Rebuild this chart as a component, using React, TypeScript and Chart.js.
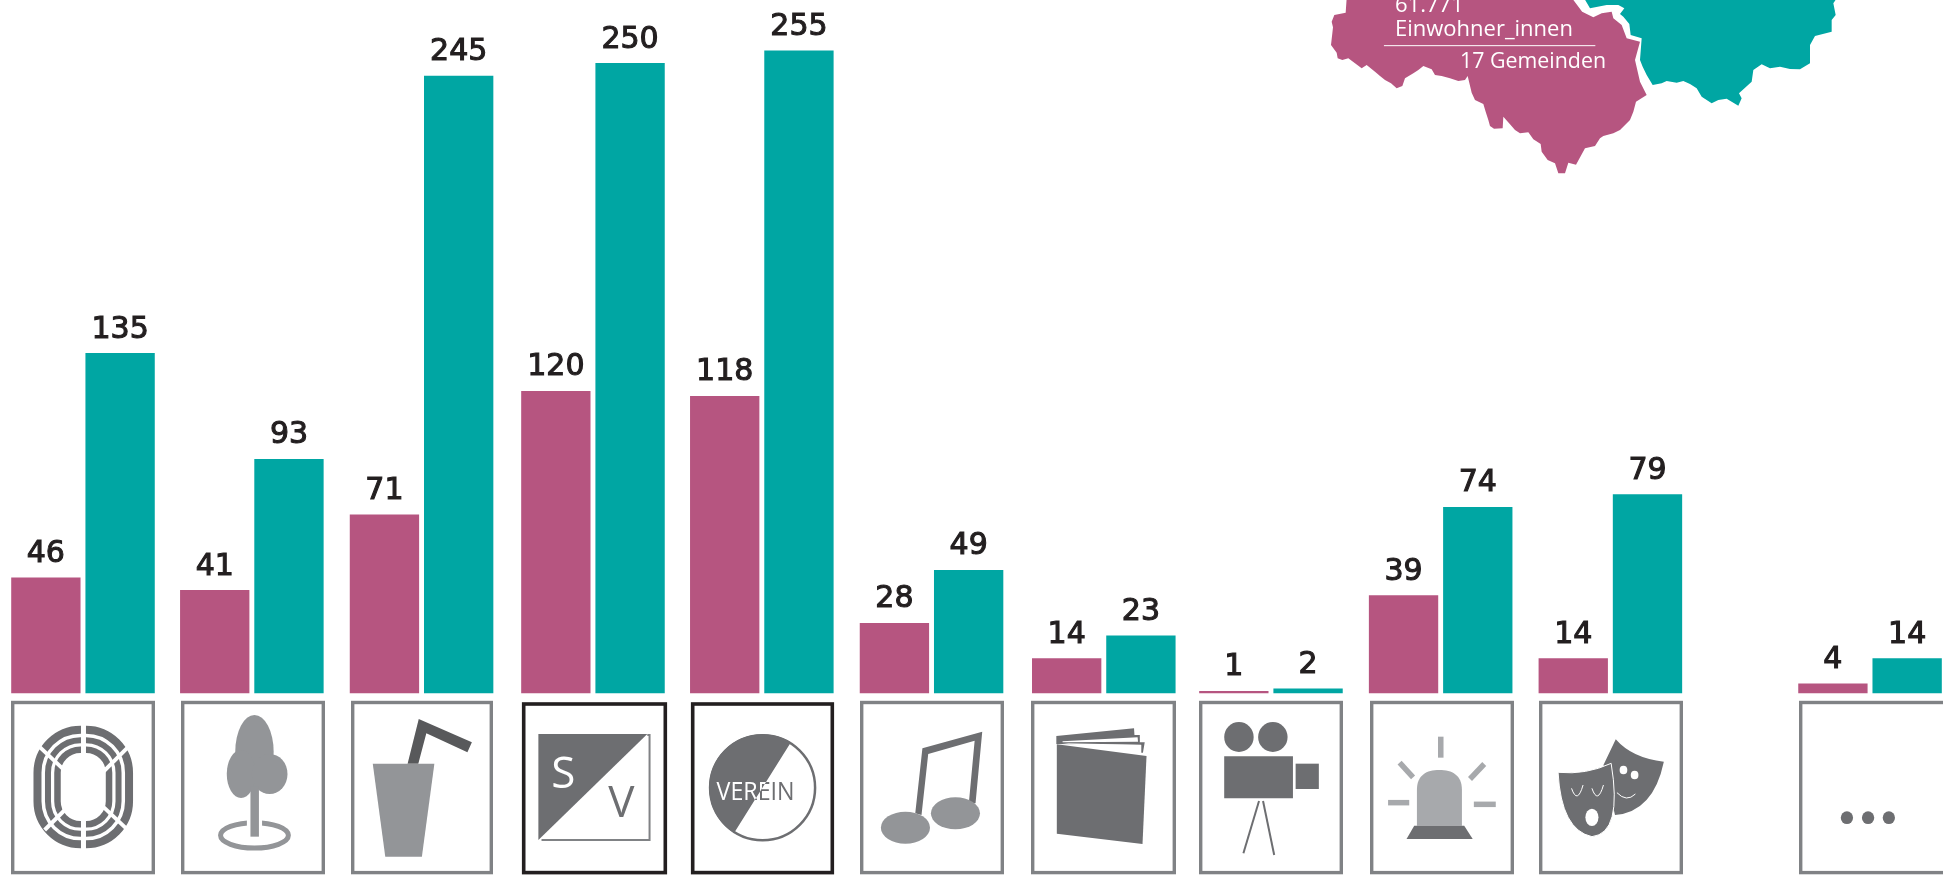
import React, { useEffect, useRef } from "react";
import { Chart, registerables } from "chart.js";

Chart.register(...registerables);

// ---- data ----
const categories = ["Sport", "Park", "Gastronomie", "Sportverein", "Verein", "Musik", "Bücherei", "Kino", "Feuerwehr", "Theater", "Sonstige"];
const groupSlots = [0, 0.995, 1.995, 3.005, 4, 5, 6.015, 7, 8, 9, 10.53];
const pinkValues = [46, 41, 71, 120, 118, 28, 14, 1, 39, 14, 4];
const tealValues = [135, 93, 245, 250, 255, 49, 23, 2, 74, 79, 14];
const pinkLabel = "61.771 Einwohner_innen, 17 Gemeinden";
const tealLabel = "Zweite Region";
const mapLines = ["61.771", "Einwohner_innen", "17 Gemeinden"];

const PINK = "#b65580";
const TEAL = "#00a6a3";
const DARK = "#6d6e71";
const MID = "#939598";
const LIGHT = "#a7a9ac";
const BOX = "#808285";
const INK = "#231f20";

type Pt = [number, number];
type M = { x: (p: number) => number; y: (p: number) => number; sx: number; sy: number };
const mapper = (ox: number, oy: number, sx: number, sy: number): M => ({
  x: (p) => ox + p / sx,
  y: (p) => oy + p / sy,
  sx,
  sy,
});
const mA = mapper(0, 680, 2.24, 3);
const mB = mapper(680, 680, 2.24, 3);
const mC = mapper(1340, 620, 2.6, 3);
const mMap = mapper(1300, 0, 2.8, 3);
const mAbs = mapper(0, 0, 1, 1);
const mP1 = mapper(1325, 0, 3, 3);
const mP2 = mapper(1470, 70, 3, 3);
const mT = mapper(1590, 0, 3, 3);
const conv = (m: M, pts: Pt[]): Pt[] => pts.map(([a, b]) => [m.x(a), m.y(b)] as Pt);

function polyPath(ctx: CanvasRenderingContext2D, m: M, pts: Pt[]) {
  ctx.beginPath();
  pts.forEach(([a, b], i) => (i ? ctx.lineTo(m.x(a), m.y(b)) : ctx.moveTo(m.x(a), m.y(b))));
  ctx.closePath();
}
function poly(ctx: CanvasRenderingContext2D, m: M, pts: Pt[], fill: string) {
  polyPath(ctx, m, pts);
  ctx.fillStyle = fill;
  ctx.fill();
}
function ell(ctx: CanvasRenderingContext2D, m: M, cx: number, cy: number, rx: number, ry: number, fill: string) {
  ctx.beginPath();
  ctx.ellipse(m.x(cx), m.y(cy), rx / m.sx, ry / m.sy, 0, 0, Math.PI * 2);
  ctx.fillStyle = fill;
  ctx.fill();
}
function line(ctx: CanvasRenderingContext2D, m: M, pts: Pt[], color: string, lw: number) {
  ctx.beginPath();
  pts.forEach(([a, b], i) => (i ? ctx.lineTo(m.x(a), m.y(b)) : ctx.moveTo(m.x(a), m.y(b))));
  ctx.strokeStyle = color;
  ctx.lineWidth = lw;
  ctx.stroke();
}

const pinkMap: Pt[] = [
  ...conv(mP1, [[65,-5],[62,38],[28,45],[20,65],[24,82],[22,100],[18,135],[35,158],[38,175],[52,180],[70,175],[90,190],[110,205],[125,195],[150,215],[165,228],[180,240],[198,250],[215,265],[232,258],[240,235],[265,220],[280,210],[295,198],[320,208],[330,225],[350,228],[375,235],[400,243],[420,240],[428,228]]),
  ...conv(mP2, [[5,68],[15,90],[40,102],[47,125],[55,150],[60,168],[72,176],[98,175],[100,140],[122,165],[135,180],[150,190],[175,187],[190,208],[212,222],[215,245],[233,270],[255,280],[265,310],[285,310],[295,278],[318,284],[345,235],[375,228],[390,205],[400,198],[430,190],[450,180],[480,150],[490,125],[498,95],[530,75]]),
  ...conv(mT, [[150,245],[135,180],[150,125],[110,115],[95,75],[70,55],[65,35],[35,40],[10,52]]),
  ...conv(mMap, [[790,35],[762,-5]]),
];
const tealMap: Pt[] = [
  [1584, -2],
  ...conv(mT, [[0,25],[50,15],[85,15],[103,25],[90,42],[100,50],[118,72],[122,105],[155,115],[150,180],[158,200],[170,225],[188,255],[215,250],[230,243],[260,248],[280,243],[300,252],[320,265],[335,290],[365,310],[385,300],[410,296],[445,317],[455,295],[447,280],[485,245],[490,210],[515,193],[540,205],[570,200],[600,207],[630,208],[660,190],[660,135],[675,108],[725,95],[725,60],[737,45],[730,10],[740,-5]]),
];

function drawMap(ctx: CanvasRenderingContext2D) {
  poly(ctx, mAbs, pinkMap, PINK);
  poly(ctx, mAbs, tealMap, TEAL);
  ctx.fillStyle = "#ffffff";
  ctx.textAlign = "left";
  ctx.textBaseline = "alphabetic";
  ctx.font = '22px "Open Sans"';
  ctx.fillText(mapLines[0], 1395, 12);
  ctx.fillText(mapLines[1], 1395, 36, 178);
  ctx.textAlign = "right";
  ctx.fillText(mapLines[2], 1606, 68, 146);
  line(ctx, mMap, [[235, 137], [827, 137]], "#ffffff", 1);
}

const boxLeft = [11, 181, 351, 522, 691, 860, 1031, 1199, 1370, 1539, 1799];
const boxRight = [155, 325, 493, 667, 834, 1004, 1176, 1343, 1514, 1683, 1950];

function drawBoxes(ctx: CanvasRenderingContext2D) {
  boxLeft.forEach((l, i) => {
    const black = i === 3 || i === 4;
    ctx.strokeStyle = black ? INK : BOX;
    ctx.lineWidth = black ? 3.6 : 3.4;
    const t = i === 3 ? 704 : black ? 704 : 702.5;
    const b = 872.6;
    ctx.strokeRect(l + 1.7, t, boxRight[i] - l - 3.4, b - t);
  });
}

function iconTrack(ctx: CanvasRenderingContext2D) {
  const L = mA.x(75), R = mA.x(298), T = mA.y(137), B = mA.y(505);
  [[4, 8], [14.5, 6], [24, 6.5]].forEach(([inset, lw]) => {
    ctx.beginPath();
    const rad = 47 - inset;
    ctx.roundRect(L + inset, T + inset, R - L - inset * 2, B - T - inset * 2, rad);
    ctx.strokeStyle = DARK;
    ctx.lineWidth = lw;
    ctx.stroke();
  });
  line(ctx, mA, [[187, 125], [187, 515]], "#fff", 5);
  line(ctx, mA, [[88, 200], [285, 448]], "#fff", 4);
  line(ctx, mA, [[288, 200], [100, 450]], "#fff", 4);
}
function iconTree(ctx: CanvasRenderingContext2D) {
  ell(ctx, mA, 570, 215, 43, 110, MID);
  ell(ctx, mA, 540, 282, 32, 72, MID);
  ell(ctx, mA, 604, 282, 40, 60, MID);
  ctx.beginPath();
  ctx.ellipse(mA.x(570), mA.y(466), 76 / 2.24, 38 / 3, 0, 0, Math.PI * 2);
  ctx.strokeStyle = MID;
  ctx.lineWidth = 5;
  ctx.stroke();
  poly(ctx, mA, [[553, 415], [587, 415], [587, 445], [553, 445]], "#fff");
  poly(ctx, mA, [[561, 320], [580, 320], [580, 470], [561, 470]], MID);
}
function iconGlass(ctx: CanvasRenderingContext2D) {
  poly(ctx, mA, [[913, 251], [938, 117], [1057, 187], [1047, 217], [955, 160], [937, 251]], "#58595b");
  poly(ctx, mA, [[835, 251], [973, 251], [945, 530], [863, 530]], MID);
}
function iconSV(ctx: CanvasRenderingContext2D) {
  poly(ctx, mA, [[1206, 162], [1450, 162], [1206, 480]], DARK);
  line(ctx, mA, [[1450, 165], [1455, 165], [1455, 480], [1213, 480]], BOX, 2);
  ctx.textAlign = "center";
  ctx.textBaseline = "alphabetic";
  ctx.font = '400 44px "Open Sans"';
  ctx.fillStyle = "#fff";
  ctx.fillText("S", mA.x(1262), mA.y(325));
  ctx.fillStyle = DARK;
  ctx.fillText("V", mA.x(1392), mA.y(410));
}
function iconVerein(ctx: CanvasRenderingContext2D) {
  const cx = mB.x(185), cy = mB.y(323), r = 53.5;
  ctx.beginPath();
  ctx.ellipse(cx, cy, r - 1, r - 1, 0, 0, Math.PI * 2);
  ctx.strokeStyle = DARK;
  ctx.lineWidth = 2.5;
  ctx.stroke();
  const half = () => {
    const a1 = Math.atan2(mB.y(190) - cy, mB.x(247) - cx);
    const a2 = Math.atan2(mB.y(457) - cy, mB.x(122) - cx);
    ctx.beginPath();
    ctx.arc(cx, cy, r, a1, a2, true);
    ctx.closePath();
  };
  half();
  ctx.fillStyle = DARK;
  ctx.fill();
  ctx.textAlign = "left";
  ctx.textBaseline = "alphabetic";
  ctx.font = '400 25px "Open Sans"';
  ctx.fillStyle = DARK;
  ctx.fillText("VEREIN", mB.x(82), mB.y(360), 78);
  ctx.save();
  half();
  ctx.clip();
  ctx.fillStyle = "#fff";
  ctx.fillText("VEREIN", mB.x(82), mB.y(360), 78);
  ctx.restore();
}
function iconMusic(ctx: CanvasRenderingContext2D) {
  poly(ctx, mB, [[527, 400], [543, 205], [677, 155], [662, 370], [647, 370], [660, 182], [556, 222], [541, 405]], DARK);
  ell(ctx, mB, 505, 443, 55, 48, MID);
  ell(ctx, mB, 617, 400, 55, 48, MID);
}
function iconBook(ctx: CanvasRenderingContext2D) {
  poly(ctx, mB, [[843, 168], [1017, 145], [1018, 165], [1030, 165], [1030, 187], [1041, 187], [1037, 218], [1033, 218], [1033, 195], [843, 192]], DARK);
  poly(ctx, mB, [[857, 184], [1025, 172], [1026, 185], [857, 187]], "#fff");
  poly(ctx, mB, [[857, 190], [1033, 194], [1033, 222], [1000, 214]], "#fff");
  poly(ctx, mB, [[844, 193], [1045, 228], [1036, 492], [844, 461]], DARK);
}
function iconCamera(ctx: CanvasRenderingContext2D) {
  ell(ctx, mB, 1252, 171, 33, 45, DARK);
  ell(ctx, mB, 1328, 171, 33, 45, DARK);
  poly(ctx, mB, [[1219, 229], [1373, 229], [1373, 355], [1219, 355]], DARK);
  poly(ctx, mB, [[1379, 251], [1431, 251], [1431, 327], [1379, 327]], DARK);
  line(ctx, mB, [[1297, 363], [1262, 520]], DARK, 2);
  line(ctx, mB, [[1306, 363], [1331, 525]], DARK, 2);
}
function iconSiren(ctx: CanvasRenderingContext2D) {
  ctx.beginPath();
  ctx.moveTo(mC.x(200), mC.y(617));
  ctx.lineTo(mC.x(200), mC.y(510));
  ctx.bezierCurveTo(mC.x(200), mC.y(465), mC.x(225), mC.y(450), mC.x(258), mC.y(450));
  ctx.bezierCurveTo(mC.x(292), mC.y(450), mC.x(317), mC.y(465), mC.x(317), mC.y(510));
  ctx.lineTo(mC.x(317), mC.y(617));
  ctx.closePath();
  ctx.fillStyle = LIGHT;
  ctx.fill();
  poly(ctx, mC, [[193, 617], [323, 617], [345, 657], [173, 657]], DARK);
  line(ctx, mC, [[262, 350], [262, 413]], LIGHT, 5.5);
  line(ctx, mC, [[155, 428], [190, 472]], LIGHT, 5.5);
  line(ctx, mC, [[375, 432], [338, 477]], LIGHT, 5.5);
  line(ctx, mC, [[125, 548], [180, 548]], LIGHT, 5.5);
  line(ctx, mC, [[348, 553], [405, 553]], LIGHT, 5.5);
}
function iconMasks(ctx: CanvasRenderingContext2D) {
  const X = mC.x, Y = mC.y;
  ctx.beginPath();
  ctx.moveTo(X(717), Y(358));
  ctx.quadraticCurveTo(X(760), Y(415), X(842), Y(425));
  ctx.quadraticCurveTo(X(815), Y(575), X(715), Y(585));
  ctx.lineTo(X(685), Y(435));
  ctx.closePath();
  ctx.fillStyle = DARK;
  ctx.fill();
  ell(ctx, mC, 737, 450, 10, 13, "#fff");
  ell(ctx, mC, 766, 465, 10, 13, "#fff");
  ctx.beginPath();
  ctx.moveTo(X(720), Y(518));
  ctx.quadraticCurveTo(X(745), Y(548), X(768), Y(522));
  ctx.strokeStyle = "#fff";
  ctx.lineWidth = 1;
  ctx.stroke();
  ctx.beginPath();
  ctx.moveTo(X(567), Y(457));
  ctx.quadraticCurveTo(X(640), Y(465), X(705), Y(430));
  ctx.quadraticCurveTo(X(735), Y(640), X(655), Y(650));
  ctx.quadraticCurveTo(X(575), Y(630), X(567), Y(457));
  ctx.closePath();
  ctx.fillStyle = DARK;
  ctx.fill();
  ctx.strokeStyle = "#fff";
  ctx.lineWidth = 1;
  ctx.stroke();
  [[602, 632], [655, 685]].forEach(([a, b]) => {
    ctx.beginPath();
    ctx.moveTo(X(a), Y(505));
    ctx.quadraticCurveTo(X((a + b) / 2), Y(555), X(b), Y(495));
    ctx.stroke();
  });
  ell(ctx, mC, 655, 592, 17, 26, "#fff");
}
function iconDots(ctx: CanvasRenderingContext2D) {
  [1318, 1373, 1427].forEach((c) => ell(ctx, mC, c, 593, 16, 19, DARK));
}

const decorPlugin = {
  id: "decor",
  beforeDatasetsDraw(chart: any) {
    const ctx = chart.ctx as CanvasRenderingContext2D;
    ctx.save();
    drawMap(ctx);
    drawBoxes(ctx);
    iconTrack(ctx);
    iconTree(ctx);
    iconGlass(ctx);
    iconSV(ctx);
    iconVerein(ctx);
    iconMusic(ctx);
    iconBook(ctx);
    iconCamera(ctx);
    iconSiren(ctx);
    iconMasks(ctx);
    iconDots(ctx);
    ctx.restore();
  },
};

const valueLabels = {
  id: "valueLabels",
  afterDatasetsDraw(chart: any) {
    const ctx = chart.ctx as CanvasRenderingContext2D;
    ctx.save();
    ctx.textAlign = "center";
    ctx.textBaseline = "alphabetic";
    ctx.font = '30px "DejaVu Sans"';
    ctx.fillStyle = INK;
    ctx.strokeStyle = INK;
    ctx.lineWidth = 1.1;
    chart.data.datasets.forEach((ds: any, di: number) => {
      chart.getDatasetMeta(di).data.forEach((bar: any, i: number) => {
        const text = String(ds.data[i].y);
        ctx.fillText(text, bar.x, bar.y - 15.5);
        ctx.strokeText(text, bar.x, bar.y - 15.5);
      });
    });
    ctx.restore();
  },
};

export default function App() {
  const ref = useRef<HTMLCanvasElement>(null);
  useEffect(() => {
    document.body.style.margin = "0";
    document.body.style.overflow = "hidden";
    const chart = new Chart(ref.current!, {
      type: "bar",
      data: {
        datasets: [
          {
            label: pinkLabel,
            data: groupSlots.map((x, i) => ({ x, y: pinkValues[i], name: categories[i] })),
            backgroundColor: PINK,
          },
          {
            label: tealLabel,
            data: groupSlots.map((x, i) => ({ x, y: tealValues[i], name: categories[i] })),
            backgroundColor: TEAL,
          },
        ],
      } as any,
      options: {
        responsive: false,
        animation: false,
        layout: { padding: { top: 0, bottom: 181.5, left: 0, right: 0 } },
        datasets: { bar: { categoryPercentage: 1.789, barPercentage: 0.934 } },
        plugins: { legend: { display: false }, tooltip: { enabled: false } },
        scales: {
          x: { type: "linear", min: -0.489, max: 10.96, display: false, offset: false },
          y: { min: 0, max: 275, display: false },
        },
      } as any,
      plugins: [decorPlugin, valueLabels],
    });
    return () => chart.destroy();
  }, []);
  return (
    <canvas
      ref={ref}
      width={1943}
      height={875}
      style={{ position: "absolute", left: 0, top: 0, width: 1943, height: 875 }}
    />
  );
}
